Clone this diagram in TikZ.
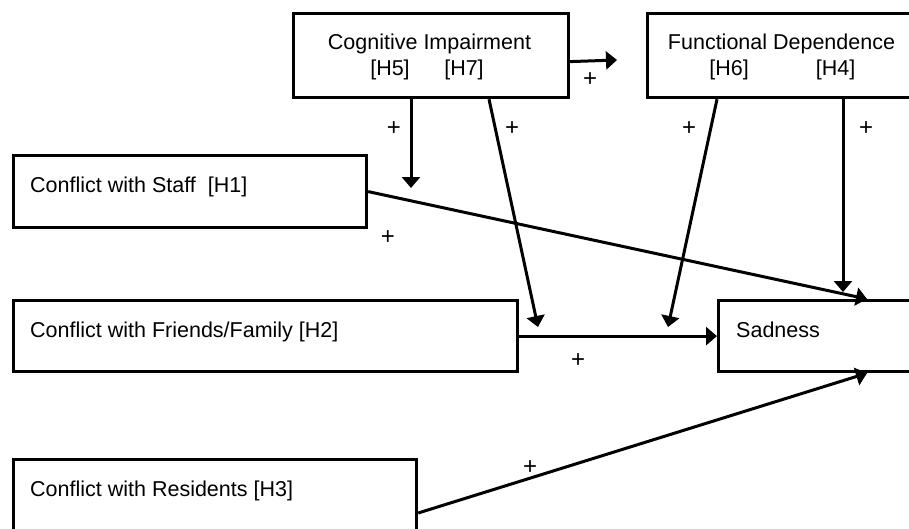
\documentclass[tikz,border=0pt]{standalone}
\usepackage{fontspec}
\setmainfont{Liberation Sans}
\usetikzlibrary{arrows.meta}
\begin{document}
\begin{tikzpicture}[x=1pt,y=-1pt,
  box/.style={draw, line width=3.2pt, inner sep=0pt, anchor=north west},
  lbl/.style={font=\fontsize{21.5}{26}\selectfont, inner sep=0pt, anchor=base west},
  clbl/.style={font=\fontsize{21.5}{26}\selectfont, inner sep=0pt, anchor=base},
  plus/.style={font=\fontsize{24}{26}\selectfont, inner sep=0pt},
  arr/.style={line width=3pt, -{Triangle[length=11pt,width=18pt]}}]
\useasboundingbox (0,0) rectangle (909,528);
\clip (0,0) rectangle (909,528);
% boxes
\node[box, minimum width=275pt, minimum height=84pt] (ci) at (292,12) {};
\node[box, minimum width=300pt, minimum height=84pt] (fd) at (646,12) {};
\node[box, minimum width=353pt, minimum height=72pt] (staff) at (12,154) {};
\node[box, minimum width=504pt, minimum height=71pt] (friends) at (12,299) {};
\node[box, minimum width=403pt, minimum height=100pt] (resid) at (12,458) {};
\node[box, minimum width=250pt, minimum height=71pt] (sad) at (717,299) {};
% texts
\node[clbl] (ciT) at (429.5,49) {Cognitive Impairment};
\node[clbl] (h5) at (390,75) {[H5]};
\node[clbl] (h7) at (464,75) {[H7]};
\node[clbl] (fdT) at (781.5,49) {Functional Dependence};
\node[clbl] (h6) at (729,75) {[H6]};
\node[clbl] (h4) at (835.5,75) {[H4]};
\node[lbl] (staffT) at (30,192) {Conflict with Staff\ \ [H1]};
\node[lbl] (friendsT) at (30,337) {Conflict with Friends/Family [H2]};
\node[lbl] (residT) at (30,496) {Conflict with Residents [H3]};
\node[lbl] (sadT) at (736,337) {Sadness};
% free ends
\coordinate (e1) at (617,60);
\coordinate (e2) at (411,188);
\coordinate (e3) at (538,327);
\coordinate (e4) at (668,327);
\coordinate (e5) at (843,292);
% connectors
\draw[arr] ([yshift=-6pt]ci.east) -- (e1);
\draw[arr] ([xshift=119pt]ci.south west) -- (e2);
\draw[arr] ([xshift=197pt]ci.south west) -- (e3);
\draw[arr] ([xshift=71pt]fd.south west) -- (e4);
\draw[arr] ([xshift=197pt]fd.south west) -- (e5);
\draw[arr] (staff.east) -- ([xshift=150pt]sad.north west);
\draw[arr] (friends.east) -- (sad.west);
\draw[arr] ([yshift=-55pt]resid.north east) -- ([xshift=150pt]sad.south west);
% plus labels
\node[plus] (p1) at (394,129) {+};
\node[plus] (p2) at (512,129) {+};
\node[plus] (p3) at (590,80) {+};
\node[plus] (p4) at (689,129) {+};
\node[plus] (p5) at (866,129) {+};
\node[plus] (p6) at (388,238) {+};
\node[plus] (p7) at (578,361) {+};
\node[plus] (p8) at (530,468) {+};
\end{tikzpicture}
\end{document}
